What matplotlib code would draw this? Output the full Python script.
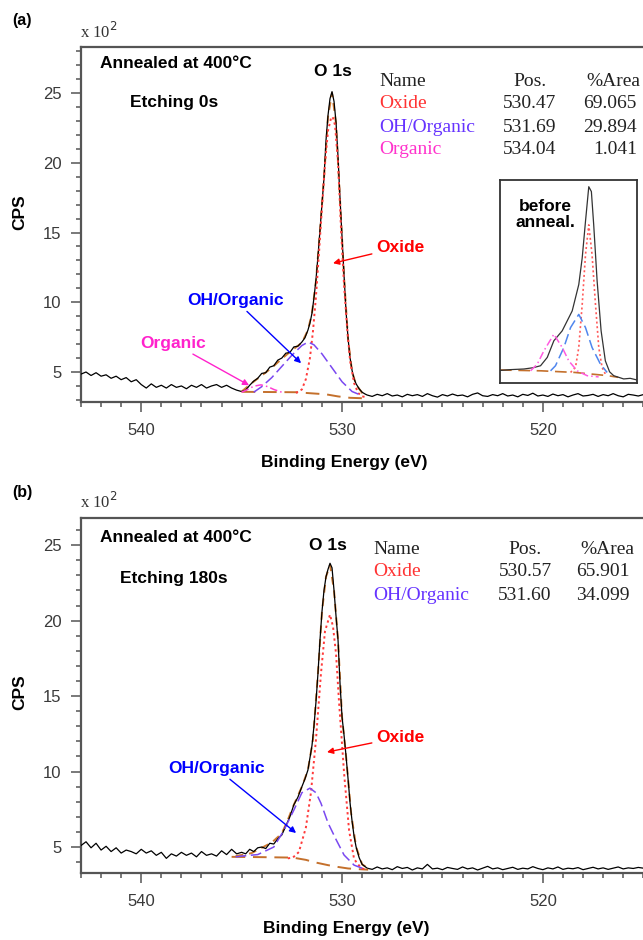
"""
O 1s XPS spectra of the film annealed at 400 C, before and after 180 s etching.
Values read off the original figure (CPS in units of 1e2).
"""

import matplotlib
matplotlib.use("Agg")
import matplotlib.pyplot as plt
from matplotlib.ticker import MultipleLocator

SANS = "Liberation Sans"
SERIF = "Liberation Serif"
plt.rcParams["font.family"] = [SANS, "DejaVu Sans"]

W, H = 643, 940

# ---- scan grid (eV) -------------------------------------------------------
BE_LEFT = [543.00, 542.75, 542.50, 542.25, 542.00, 541.75, 541.50, 541.25,
           541.00, 540.75, 540.50, 540.25, 540.00, 539.75, 539.50, 539.25,
           539.00, 538.75, 538.50, 538.25, 538.00, 537.75, 537.50, 537.25,
           537.00, 536.75, 536.50, 536.25, 536.00, 535.75, 535.50, 535.25,
           535.00]
BE_PEAK = [534.8, 534.6, 534.4, 534.2, 534.0, 533.8, 533.6, 533.4, 533.2,
           533.0, 532.8, 532.6, 532.4, 532.2, 532.0, 531.85, 531.7, 531.6,
           531.5, 531.4, 531.3, 531.2, 531.1, 531.0, 530.9, 530.8, 530.7,
           530.6, 530.5, 530.4, 530.3, 530.2, 530.1, 530.0, 529.9, 529.8,
           529.7, 529.6, 529.5, 529.4, 529.3, 529.15, 529.0, 528.85]
BE_RIGHT = [528.75, 528.50, 528.25, 528.00, 527.75, 527.50, 527.25, 527.00,
            526.75, 526.50, 526.25, 526.00, 525.75, 525.50, 525.25, 525.00,
            524.75, 524.50, 524.25, 524.00, 523.75, 523.50, 523.25, 523.00,
            522.75, 522.50, 522.25, 522.00, 521.75, 521.50, 521.25, 521.00,
            520.75, 520.50, 520.25, 520.00, 519.75, 519.50, 519.25, 519.00,
            518.75, 518.50, 518.25, 518.00, 517.75, 517.50, 517.25, 517.00,
            516.75, 516.50, 516.25, 516.00, 515.75, 515.50, 515.25, 515.00]

# ---- (a) etching 0 s -------------------------------------------------------
A_LEFT = [4.85, 5.00, 4.75, 4.95, 4.70, 4.80, 4.55, 4.70, 4.45, 4.60,
          4.30, 4.45, 4.10, 3.85, 4.15, 3.90, 4.05, 3.85, 4.10, 3.90,
          4.00, 3.80, 4.05, 3.90, 4.10, 3.85, 4.00, 4.10, 3.90, 4.05,
          3.85, 3.70, 3.60]
A_PEAK = [3.70, 4.05, 4.35, 4.55, 4.90, 4.95, 5.35, 5.45, 5.85, 6.00,
          6.35, 6.40, 6.80, 6.85, 7.15, 7.45, 8.0, 8.5, 9.2, 10.3, 11.6,
          13.3, 15.2, 17.0, 18.9, 21.6, 23.4, 24.6, 25.1, 24.4, 22.9, 20.4,
          17.4, 14.6, 11.9, 9.3, 7.4, 6.0, 5.1, 4.5, 4.15, 3.8, 3.55, 3.42]
A_RIGHT = [3.35, 3.25, 3.40, 3.30, 3.45, 3.28, 3.35, 3.22, 3.40, 3.30,
           3.38, 3.25, 3.45, 3.30, 3.20, 3.38, 3.28, 3.42, 3.30, 3.35,
           3.22, 3.40, 3.50, 3.30, 3.25, 3.38, 3.30, 3.45, 3.28, 3.35,
           3.22, 3.40, 3.32, 3.48, 3.28, 3.35, 3.25, 3.42, 3.30, 3.38,
           3.22, 3.35, 3.45, 3.28, 3.32, 3.40, 3.25, 3.38, 3.30, 3.45,
           3.30, 3.22, 3.40, 3.35, 3.28, 3.38]

A_OX_BE = [532.3, 532.0, 531.8, 531.6, 531.45, 531.3, 531.15, 531.0, 530.85,
           530.7, 530.55, 530.47, 530.35, 530.2, 530.05, 529.9, 529.75,
           529.6, 529.4, 529.2, 529.0, 528.8]
A_OX = [3.50, 3.75, 4.5, 6.0, 7.9, 10.4, 13.5, 16.8, 19.9, 22.3, 23.2, 23.3,
        22.7, 20.0, 15.2, 11.2, 8.2, 5.8, 4.2, 3.5, 3.25, 3.2]
A_OH_BE = [534.4, 534.0, 533.5, 533.0, 532.5, 532.0, 531.69, 531.4, 531.0,
           530.5, 530.0, 529.5, 529.0]
A_OH = [3.55, 3.95, 4.6, 5.4, 6.2, 6.9, 7.15, 6.95, 6.3, 5.3, 4.3, 3.6, 3.3]
A_ORG_BE = [535.0, 534.7, 534.4, 534.04, 533.7, 533.4, 533.0]
A_ORG = [3.55, 3.75, 3.98, 4.08, 3.95, 3.75, 3.55]
A_BG_BE = [535.0, 532.3, 531.5, 530.8, 530.2, 529.6, 529.0, 528.7]
A_BG = [3.58, 3.55, 3.47, 3.40, 3.25, 3.15, 3.12, 3.12]
A_ENV_BE = [535.0, 534.5, 534.0, 533.5, 533.0, 532.5, 532.0, 531.7, 531.5,
            531.3, 531.1, 530.9, 530.7, 530.5, 530.3, 530.1, 529.9, 529.7,
            529.5, 529.3, 529.0, 528.8]
A_ENV = [3.6, 4.2, 4.75, 5.3, 5.95, 6.55, 7.1, 8.0, 9.2, 11.5, 15.1, 18.9,
         23.3, 25.0, 22.8, 17.3, 11.8, 7.3, 5.0, 4.1, 3.5, 3.3]

A_NAMES = ["Oxide", "OH/Organic", "Organic"]
A_POS = ["530.47", "531.69", "534.04"]
A_AREA = ["69.065", "29.894", "1.041"]

# ---- (b) etching 180 s -----------------------------------------------------
B_LEFT = [5.10, 5.35, 4.95, 5.25, 4.80, 5.05, 4.70, 4.95, 4.60, 4.80,
          4.70, 4.55, 4.85, 4.60, 4.75, 4.45, 4.65, 4.25, 4.55, 4.40,
          4.65, 4.45, 4.60, 4.35, 4.70, 4.45, 4.55, 4.40, 4.75, 4.50,
          4.85, 4.55, 4.65]
B_PEAK = [4.55, 4.85, 4.70, 4.95, 5.00, 4.90, 5.25, 5.20, 5.55, 5.80,
          6.40, 7.00, 7.80, 8.30, 9.00, 9.50, 10.1, 10.9, 11.7, 13.0, 14.6,
          16.5, 18.7, 20.6, 22.0, 22.9, 23.4, 23.8, 23.5, 22.0, 20.3, 18.7,
          15.8, 13.6, 12.4, 11.0, 9.5, 7.9, 6.7, 5.7, 5.0, 4.3, 3.85, 3.70]
B_RIGHT = [3.60, 3.52, 3.68, 3.55, 3.62, 3.50, 3.70, 3.58, 3.65, 3.48,
           3.62, 3.55, 3.85, 3.55, 3.60, 3.50, 3.65, 3.58, 3.52, 3.68,
           3.55, 3.62, 3.48, 3.60, 3.72, 3.55, 3.62, 3.50, 3.58, 3.66,
           3.52, 3.60, 3.55, 3.70, 3.58, 3.50, 3.62, 3.55, 3.68, 3.52,
           3.60, 3.56, 3.64, 3.50, 3.58, 3.66, 3.55, 3.62, 3.52, 3.60,
           3.68, 3.55, 3.62, 3.58, 3.65, 3.60]

B_OX_BE = [532.7, 532.45, 532.15, 531.8, 531.55, 531.3, 531.05, 530.85,
           530.6, 530.45, 530.3, 530.15, 529.9, 529.65, 529.4, 529.05, 528.8]
B_OX = [4.25, 4.3, 4.67, 6.3, 8.6, 12.1, 16.5, 19.3, 20.4, 19.6, 17.8, 14.6,
        9.9, 6.1, 4.2, 3.6, 3.5]
B_OH_BE = [535.3, 535.0, 534.2, 533.4, 532.9, 532.4, 532.0, 531.6, 531.3,
           531.05, 530.7, 530.3, 529.9, 529.4, 529.0]
B_OH = [4.35, 4.4, 4.5, 5.0, 6.1, 7.45, 8.6, 8.9, 8.6, 7.9, 6.6, 5.5, 4.47,
        3.8, 3.6]
B_BG_BE = [535.5, 534.0, 532.45, 531.8, 531.4, 530.7, 530.2, 529.7, 529.0,
           528.7]
B_BG = [4.35, 4.33, 4.3, 4.15, 4.0, 3.8, 3.68, 3.58, 3.52, 3.5]
B_ENV_BE = [535.3, 534.5, 534.0, 533.5, 533.0, 532.7, 532.45, 532.0, 531.7,
            531.45, 531.2, 531.0, 530.8, 530.6, 530.4, 530.2, 530.0, 529.8,
            529.55, 529.3, 529.0, 528.7]
B_ENV = [4.4, 4.6, 4.95, 5.3, 5.9, 6.8, 7.65, 9.0, 10.1, 12.1, 16.5, 20.6,
         22.9, 23.7, 22.0, 18.7, 13.6, 11.0, 7.25, 5.0, 3.85, 3.6]

B_NAMES = ["Oxide", "OH/Organic"]
B_POS = ["530.57", "531.60"]
B_AREA = ["65.901", "34.099"]

# ---- inset "before anneal." (arbitrary units, 0-100 both ways) --------------
IN_U = [0, 8, 17.5, 24, 29.6, 34.5, 39.3, 45.4, 52.7, 57.5, 60.0, 62.4, 64.8,
        66.7, 68.4, 70.9, 73.8, 76.9, 80, 83.0, 90.3, 95, 100]
IN_V = [6.2, 6.6, 6.9, 7.5, 8.5, 12.6, 20.8, 25.7, 35.5, 48.5, 61.6, 79.6,
        96.7, 94.3, 77.9, 50.2, 25.7, 10.9, 5.5, 3.6, 2.0, 2.3, 1.5]
IN_OX_U = [51.5, 55.1, 57.5, 60.0, 62.4, 64.8, 67.2, 69.7, 72.1, 74.5, 76.9]
IN_OX_V = [5.2, 7.7, 17.5, 38.7, 63.2, 77.9, 63.2, 38.7, 17.5, 7.7, 4.4]
IN_OH_U = [36.9, 40.5, 46.6, 51.5, 57.5, 62.4, 67.2, 73.3, 78.2]
IN_OH_V = [6.0, 8.5, 17.5, 27.3, 33.8, 27.3, 17.5, 9.3, 5.2]
IN_ORG_U = [22.3, 27.2, 32.0, 39.3, 45.4, 50.2, 56.3, 63.6, 72.0]
IN_ORG_V = [6.0, 9.3, 15.8, 24.0, 17.5, 10.9, 6.0, 3.6, 3.0]
IN_BG_U = [0, 30, 54.6, 78.9, 86.2]
IN_BG_V = [6.4, 6.0, 5.2, 3.6, 2.8]

NAME_COLORS = {"Oxide": "#ff3333", "OH/Organic": "#6633ff", "Organic": "#ff33cc"}
C_OX, C_OH, C_ORG, C_BG = "#ff3b3b", "#7a48f0", "#ff3fd2", "#c4702c"
AXIS_GREY = "#555555"


def fx(x):
    return x / W


def fy(y):
    return 1 - y / H


def spectrum_axes(fig, top_px, bottom_px, ylim):
    ax = fig.add_axes([fx(81), fy(bottom_px), 1 - fx(81) + 0.002,
                       (bottom_px - top_px) / H])
    ax.set_xlim(543.0, 514.95)
    ax.set_ylim(*ylim)
    ax.spines["right"].set_visible(False)
    for s in ("left", "bottom", "top"):
        ax.spines[s].set_color(AXIS_GREY)
        ax.spines[s].set_linewidth(1.6)
    ax.xaxis.set_major_locator(MultipleLocator(10))
    ax.xaxis.set_minor_locator(MultipleLocator(1))
    ax.yaxis.set_major_locator(MultipleLocator(5))
    ax.yaxis.set_minor_locator(MultipleLocator(1))
    ax.tick_params(which="both", direction="out", color=AXIS_GREY, width=1.1,
                   labelsize=12, labelcolor="#3a3a3a", top=False, right=False)
    ax.tick_params(which="major", length=7)
    ax.tick_params(which="minor", length=3.5)
    ax.tick_params(axis="x", pad=8)
    ax.tick_params(axis="y", pad=7)
    return ax


def draw_spectrum(ax, left, peak, right, comps, env):
    ax.plot(*env, color="#d07a30", lw=1.4, ls=(0, (4, 3)), zorder=2)
    ax.plot(BE_LEFT + BE_PEAK + BE_RIGHT, left + peak + right,
            color="black", lw=0.9, zorder=3)
    for be, v, color, ls, lw in comps:
        ax.plot(be, v, color=color, ls=ls, lw=lw, zorder=4)


def draw_table(fig, names, pos, area, name_x, pos_x, area_x, head_x, ys):
    kw = dict(family=[SERIF], fontsize=14, va="center")
    fig.text(fx(name_x), fy(ys[0]), "Name", color="#222222", ha="left", **kw)
    fig.text(fx(pos_x), fy(ys[0]), "Pos.", color="#222222", ha="center", **kw)
    fig.text(fx(head_x), fy(ys[0]), "%Area", color="#222222", ha="right", **kw)
    for n, p, a, y in zip(names, pos, area, ys[1:]):
        fig.text(fx(name_x), fy(y), n, color=NAME_COLORS[n], ha="left", **kw)
        fig.text(fx(pos_x), fy(y), p, color="#222222", ha="center", **kw)
        fig.text(fx(area_x), fy(y), a, color="#222222", ha="right", **kw)


def label(ax, text, xy, xytext, color, ha):
    ax.annotate(text, xy=xy, xytext=xytext, color=color, fontsize=12.5,
                fontweight="bold", ha=ha, va="center", zorder=6,
                arrowprops=dict(arrowstyle="-|>", color=color, lw=1.0,
                                mutation_scale=9, shrinkA=1, shrinkB=0))


def panel_text(fig, tag, tag_y, scale_y, ann_y, etch, etch_x, etch_y, o1s):
    bold = dict(fontweight="bold", fontsize=12.5, va="center", ha="left")
    fig.text(fx(12), fy(tag_y), tag, fontsize=11.5, fontweight="bold",
             va="center")
    fig.text(fx(80), fy(scale_y), r"x 10$^2$", fontsize=12, color="#333333",
             va="center", family=[SERIF, "DejaVu Sans"])
    fig.text(fx(100), fy(ann_y), "Annealed at 400°C", **bold)
    fig.text(fx(etch_x), fy(etch_y), etch, **bold)
    fig.text(fx(o1s[0]), fy(o1s[1]), "O 1s", **bold)


fig = plt.figure(figsize=(W / 100, H / 100), dpi=100)

# (a)
ax_a = spectrum_axes(fig, 47, 402, (2.85, 28.3))
draw_spectrum(ax_a, A_LEFT, A_PEAK, A_RIGHT, [
    (A_BG_BE, A_BG, C_BG, (0, (7, 4)), 1.4),
    (A_OX_BE, A_OX, C_OX, (0, (1.2, 1.6)), 1.4),
    (A_OH_BE, A_OH, C_OH, (0, (7, 3)), 1.1),
    (A_ORG_BE, A_ORG, C_ORG, (0, (5, 2, 1, 2)), 1.1),
], (A_ENV_BE, A_ENV))
label(ax_a, "Oxide", (530.45, 12.8), (528.31, 13.95), "#ff0000", "left")
label(ax_a, "OH/Organic", (532.04, 5.63), (535.32, 10.15), "#0000ff", "center")
label(ax_a, "Organic", (534.63, 4.05), (538.41, 7.07), "#ff22cc", "center")
panel_text(fig, "(a)", 21, 32, 63, "Etching 0s", 130, 103, (314, 71))
draw_table(fig, A_NAMES, A_POS, A_AREA, 379, 530, 637, 640, [82, 104, 127, 150])
fig.text(fx(20), fy(212), "CPS", rotation=90, fontsize=12.5,
         fontweight="bold", ha="center", va="center")
fig.text(fx(344), fy(463), "Binding Energy (eV)", fontsize=12.5,
         fontweight="bold", ha="center", va="center")

# inset: before anneal
ax_in = fig.add_axes([fx(500), fy(383), (637 - 500) / W, (383 - 180) / H])
ax_in.set_xlim(0, 100)
ax_in.set_ylim(0, 100)
ax_in.set_xticks([])
ax_in.set_yticks([])
for s in ax_in.spines.values():
    s.set_color("#333333")
    s.set_linewidth(1.3)
ax_in.plot(IN_BG_U, IN_BG_V, color=C_BG, ls=(0, (7, 4)), lw=1.2)
ax_in.plot(IN_U, IN_V, color="#333333", lw=0.9)
ax_in.plot(IN_OX_U, IN_OX_V, color="#ff5a5a", ls=(0, (1.2, 1.6)), lw=1.2)
ax_in.plot(IN_OH_U, IN_OH_V, color="#4f86ee", ls=(0, (7, 3)), lw=1.1)
ax_in.plot(IN_ORG_U, IN_ORG_V, color="#ff5ae0", ls=(0, (5, 2, 1, 2)), lw=1.1)
ax_in.text(33, 83, "before\nanneal.", fontsize=12.5, fontweight="bold",
           ha="center", va="center", linespacing=1.05)

# (b)
ax_b = spectrum_axes(fig, 518, 873, (3.28, 26.8))
draw_spectrum(ax_b, B_LEFT, B_PEAK, B_RIGHT, [
    (B_BG_BE, B_BG, C_BG, (0, (7, 4)), 1.4),
    (B_OX_BE, B_OX, C_OX, (0, (1.2, 1.6)), 1.4),
    (B_OH_BE, B_OH, C_OH, (0, (7, 3)), 1.1),
], (B_ENV_BE, B_ENV))
label(ax_b, "Oxide", (530.75, 11.29), (528.31, 12.28), "#ff0000", "left")
label(ax_b, "OH/Organic", (532.29, 5.93), (536.27, 10.23), "#0000ff", "center")
panel_text(fig, "(b)", 493, 502, 537, "Etching 180s", 120, 578, (309, 546))
draw_table(fig, B_NAMES, B_POS, B_AREA, 373, 525, 630, 634, [550, 572, 595])
fig.text(fx(20), fy(692), "CPS", rotation=90, fontsize=12.5,
         fontweight="bold", ha="center", va="center")
fig.text(fx(346), fy(929), "Binding Energy (eV)", fontsize=12.5,
         fontweight="bold", ha="center", va="center")

fig.savefig("out.png", dpi=100)
plt.close(fig)
